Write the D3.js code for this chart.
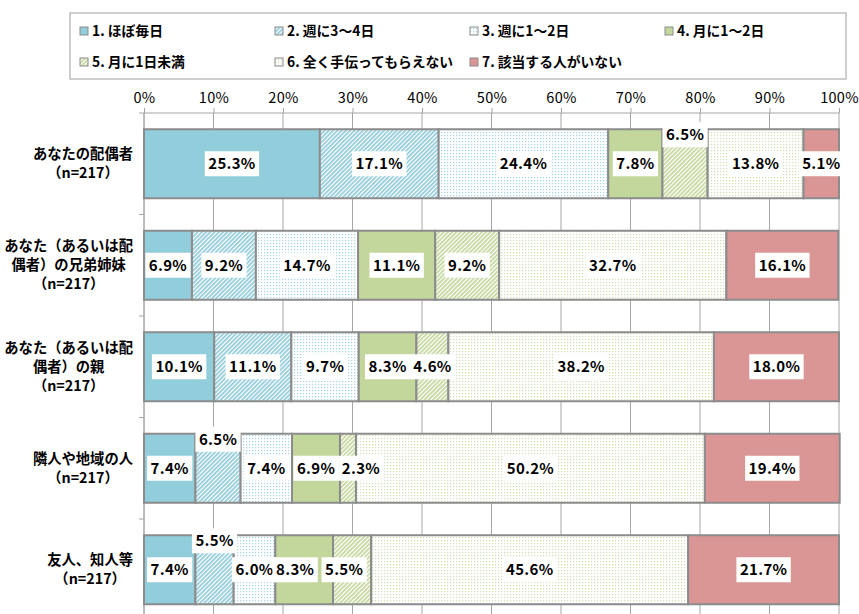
<!DOCTYPE html>
<html lang="ja">
<head>
    <meta charset="UTF-8">
    <title>手伝いの頻度</title>
    <script src="https://cdn.jsdelivr.net/npm/d3@7/dist/d3.min.js"></script>
    <style>
        body {
            margin: 0;
            background-color: white;
        }
        svg text {
            font-family: "Noto Sans CJK JP", "Noto Sans", sans-serif;
            fill: black;
        }
        .tick text {
            font-size: 14.5px;
            letter-spacing: 0.3px;
        }
        .cat {
            font-size: 14.3px;
            font-weight: bold;
        }
        .legend text {
            font-size: 13.8px;
            font-weight: bold;
        }
        .val {
            font-size: 15px;
            font-weight: bold;
            letter-spacing: 0.3px;
        }
    </style>
</head>
<body>

<svg id="chart" width="859" height="614"></svg>

<script>
    // categories (rows), top to bottom
    var categories = [
        "あなたの配偶者\n（n=217）",
        "あなた（あるいは配\n偶者）の兄弟姉妹\n（n=217）",
        "あなた（あるいは配\n偶者）の親\n（n=217）",
        "隣人や地域の人\n（n=217）",
        "友人、知人等\n（n=217）"
    ];

    var seriesNames = [
        "1. ほぼ毎日",
        "2. 週に3～4日",
        "3. 週に1～2日",
        "4. 月に1～2日",
        "5. 月に1日未満",
        "6. 全く手伝ってもらえない",
        "7. 該当する人がいない"
    ];

    // percentages per row, in series order
    var values = [
        [25.3, 17.1, 24.4, 7.8, 6.5, 13.8, 5.1],
        [6.9, 9.2, 14.7, 11.1, 9.2, 32.7, 16.1],
        [10.1, 11.1, 9.7, 8.3, 4.6, 38.2, 18.0],
        [7.4, 6.5, 7.4, 6.9, 2.3, 50.2, 19.4],
        [7.4, 5.5, 6.0, 8.3, 5.5, 45.6, 21.7]
    ];

    var tickValues = [0, 10, 20, 30, 40, 50, 60, 70, 80, 90, 100];

    // labels moved above the bar (row index - series index)
    var liftedLabels = ["0-4", "3-1", "4-1"];
    // labels nudged sideways, in px
    var labelShift = { "3-4": 13, "4-3": -9, "4-4": -8 };

    var fills = [
        "#92cddc",
        "url(#hatchBlue)",
        "url(#dotBlue)",
        "#c3d69b",
        "url(#hatchGreen)",
        "url(#dotGreen)",
        "#d99694"
    ];

    var svg = d3.select("#chart");
    var defs = svg.append("defs");

    function hatch(id, color) {
        var p = defs.append("pattern")
            .attr("id", id)
            .attr("patternUnits", "userSpaceOnUse")
            .attr("width", 3)
            .attr("height", 3)
            .attr("patternTransform", "rotate(45)");
        p.append("rect").attr("width", 3).attr("height", 3).attr("fill", "white");
        p.append("rect").attr("width", 1.7).attr("height", 3).attr("fill", color);
    }

    function dots(id, color) {
        var p = defs.append("pattern")
            .attr("id", id)
            .attr("patternUnits", "userSpaceOnUse")
            .attr("width", 3)
            .attr("height", 3);
        p.append("rect").attr("width", 3).attr("height", 3).attr("fill", "white");
        p.append("rect").attr("width", 1.2).attr("height", 1.2).attr("fill", color);
    }

    hatch("hatchBlue", "#8fcadb");
    dots("dotBlue", "#a2d4e3");
    hatch("hatchGreen", "#c3d69b");
    dots("dotGreen", "#d0e0b2");

    var plotLeft = 144, plotRight = 839, plotTop = 113, band = 101.5;

    var x = d3.scaleLinear().domain([0, 100]).range([plotLeft, plotRight]);
    var y = d3.scaleBand()
        .domain(categories)
        .range([plotTop, plotTop + band * categories.length])
        .paddingInner(0)
        .paddingOuter(0);

    var barH = y.bandwidth() * 0.68;

    // vertical gridlines
    svg.append("g")
        .selectAll("line")
        .data(tickValues)
        .enter()
        .append("line")
        .attr("x1", function(d) { return x(d); })
        .attr("x2", function(d) { return x(d); })
        .attr("y1", plotTop)
        .attr("y2", 614)
        .attr("stroke", "#a6a6a6")
        .attr("stroke-width", 1);

    // top axis
    var xAxis = svg.append("g")
        .attr("transform", "translate(0," + plotTop + ")")
        .call(d3.axisTop(x)
            .tickValues(tickValues)
            .tickSize(5)
            .tickFormat(function(d) { return d + "%"; }));
    xAxis.select(".domain").attr("stroke", "#a6a6a6").attr("d", "M" + plotLeft + ",0H" + plotRight);
    xAxis.selectAll(".tick line").attr("stroke", "#a6a6a6");
    xAxis.selectAll(".tick text").attr("dy", "-0.15em");

    // left axis with ticks at band boundaries
    var bounds = categories.map(function(c) { return y(c); }).concat([y.range()[1]]);
    var yAxis = svg.append("g");
    yAxis.append("line")
        .attr("x1", plotLeft).attr("x2", plotLeft)
        .attr("y1", plotTop).attr("y2", y.range()[1])
        .attr("stroke", "#a6a6a6");
    yAxis.selectAll("line.tk")
        .data(bounds)
        .enter()
        .append("line")
        .attr("class", "tk")
        .attr("x1", plotLeft - 5).attr("x2", plotLeft)
        .attr("y1", function(d) { return d; })
        .attr("y2", function(d) { return d; })
        .attr("stroke", "#a6a6a6");

    // stacked segments
    var rows = values.map(function(vals, i) {
        var acc = 0;
        return vals.map(function(v, j) {
            var seg = { row: i, series: j, v: v, x0: acc, x1: acc + v };
            acc += v;
            return seg;
        });
    });
    var segs = [].concat.apply([], rows);

    svg.append("g")
        .selectAll("rect")
        .data(segs)
        .enter()
        .append("rect")
        .attr("x", function(d) { return x(d.x0); })
        .attr("width", function(d) { return x(d.x1) - x(d.x0); })
        .attr("y", function(d) { return y(categories[d.row]) + (y.bandwidth() - barH) / 2; })
        .attr("height", barH)
        .attr("fill", function(d) { return fills[d.series]; })
        .attr("stroke", "#8c8c8c")
        .attr("stroke-width", 2);

    // value labels with white boxes
    var labels = svg.append("g")
        .selectAll("g")
        .data(segs)
        .enter()
        .append("g")
        .attr("transform", function(d) {
            var key = d.row + "-" + d.series;
            var cy = y(categories[d.row]) + y.bandwidth() / 2;
            if (liftedLabels.indexOf(key) >= 0) cy -= 29;
            var cx = x((d.x0 + d.x1) / 2) + (labelShift[key] || 0);
            return "translate(" + cx + "," + cy + ")";
        });

    labels.append("text")
        .attr("class", "val")
        .attr("text-anchor", "middle")
        .attr("dy", "0.36em")
        .text(function(d) { return d.v.toFixed(1) + "%"; });

    labels.each(function() {
        var g = d3.select(this);
        var bb = g.select("text").node().getBBox();
        g.insert("rect", "text")
            .attr("x", bb.x - 3.5)
            .attr("y", -12.5)
            .attr("width", bb.width + 7)
            .attr("height", 25)
            .attr("fill", "white");
    });

    // category labels, centered lines, right-aligned block
    var lineH = 19;
    svg.append("g")
        .selectAll("text")
        .data(categories)
        .enter()
        .append("text")
        .attr("class", "cat")
        .attr("text-anchor", "middle")
        .each(function(c) {
            var t = d3.select(this);
            var lines = c.split("\n");
            var cy = y(c) + y.bandwidth() / 2;
            var y0 = cy - (lines.length - 1) * lineH / 2;
            lines.forEach(function(l, k) {
                t.append("tspan")
                    .attr("y", y0 + k * lineH)
                    .attr("dy", "0.36em")
                    .text(l);
            });
            var w = 0;
            t.selectAll("tspan").each(function() {
                w = Math.max(w, this.getComputedTextLength());
            });
            t.selectAll("tspan").attr("x", Math.max(133 - w / 2, w / 2 + 3));
        });

    // legend
    var legend = svg.append("g").attr("class", "legend");
    legend.append("rect")
        .attr("x", 70).attr("y", 13)
        .attr("width", 776).attr("height", 66)
        .attr("fill", "white")
        .attr("stroke", "#bfbfbf")
        .attr("stroke-width", 1.5);

    var item = legend.selectAll("g.item")
        .data(seriesNames)
        .enter()
        .append("g")
        .attr("class", "item")
        .attr("transform", function(d, i) {
            var col = i < 4 ? i : i - 4;
            var rowY = i < 4 ? 31 : 62;
            return "translate(" + (80 + col * 195) + "," + rowY + ")";
        });

    item.append("rect")
        .attr("x", 0).attr("y", -4)
        .attr("width", 8).attr("height", 8)
        .attr("fill", function(d, i) { return fills[i]; })
        .attr("stroke", "#8c8c8c")
        .attr("stroke-width", 1);

    item.append("text")
        .attr("x", 12)
        .attr("dy", "0.36em")
        .text(function(d) { return d; });
</script>
</body>
</html>
